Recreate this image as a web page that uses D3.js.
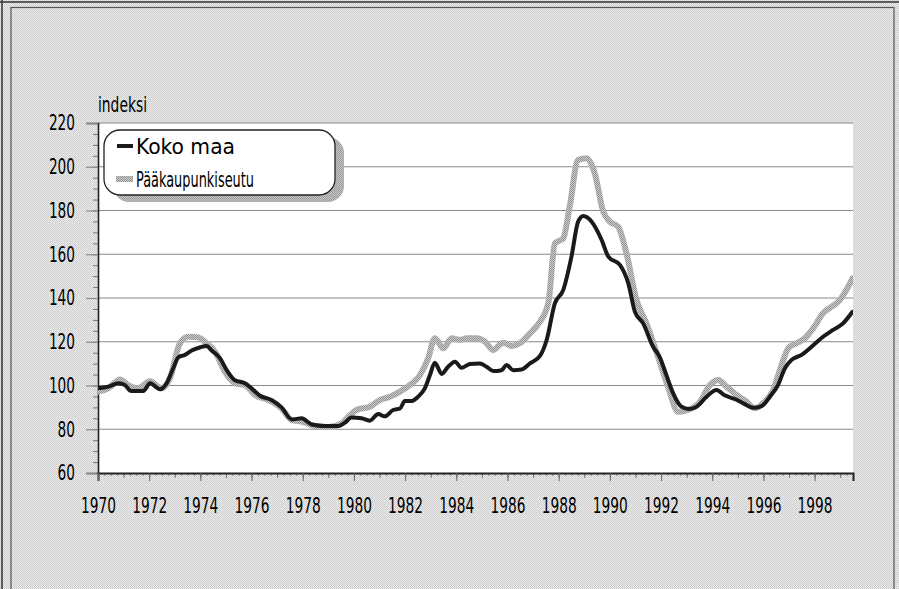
<!DOCTYPE html>
<html><head><meta charset="utf-8">
<script src="https://cdn.jsdelivr.net/npm/d3@7"></script>
<style>
body{margin:0;background:#fff;}
svg{display:block;}
text{font-family:"DejaVu Sans",sans-serif;font-stretch:condensed;fill:#000;}
</style>
</head><body>
<svg id="c" width="899" height="589"></svg>
<script>
// ---- data ----
const yearTicks = [1970,1972,1974,1976,1978,1980,1982,1984,1986,1988,1990,1992,1994,1996,1998];
const yTicks = [60,80,100,120,140,160,180,200,220];
const seriesNames = ["Koko maa","Pääkaupunkiseutu"];
const yLabel = "indeksi";

// Koko maa (whole country)
const kokoT = [1970.0,1970.4,1970.8,1971.05,1971.3,1971.77,1972.03,1972.42,1972.68,1972.94,1973.14,1973.4,1973.66,1974.0,1974.24,1974.44,1974.77,1975.03,1975.35,1975.74,1976.0,1976.33,1976.78,1977.17,1977.57,1977.96,1978.35,1978.87,1979.39,1979.65,1979.9,1980.3,1980.62,1980.95,1981.2,1981.53,1981.8,1981.99,1982.25,1982.51,1982.77,1982.97,1983.16,1983.43,1983.68,1983.95,1984.2,1984.53,1984.92,1985.18,1985.44,1985.77,1985.96,1986.22,1986.55,1986.88,1987.27,1987.53,1987.85,1988.18,1988.5,1988.76,1988.96,1989.29,1989.68,1989.94,1990.4,1990.72,1990.98,1991.3,1991.69,1991.95,1992.2,1992.47,1992.8,1993.1,1993.39,1993.78,1994.17,1994.49,1994.95,1995.27,1995.6,1995.93,1996.25,1996.57,1996.84,1997.1,1997.49,1997.88,1998.33,1998.72,1999.11,1999.48];
const kokoV = [98.7,99.5,101,100.2,97.5,97.5,101,98.3,101,107.9,112.9,114,116,117.5,118.1,116,112.4,107,102.4,101,98.7,95.3,93.4,90,84.5,85,82.2,81.5,81.5,83,85.4,85,83.9,87,85.9,88.8,89.5,92.9,92.9,94.9,98.7,104.8,110.4,105.3,108.6,110.9,108.1,109.8,110.1,108.6,106.6,107,109.4,107,107.3,110.1,113.5,120.8,137.5,143.7,158.9,174.9,177.5,174.9,166.5,158.9,155,146.7,133.7,128.4,117.7,113,105,96.5,90.3,89.3,90.3,94.9,98,95.5,93.5,91.5,89.8,90.6,94.9,100.2,107.9,111.7,114,117.7,122.3,125.4,128.4,133.7];

// Pääkaupunkiseutu (capital region)
const pksT = [1970.0,1970.4,1970.86,1971.18,1971.57,1972.03,1972.49,1972.81,1973.2,1973.53,1973.92,1974.24,1974.57,1974.96,1975.35,1975.74,1976.13,1976.65,1977.17,1977.57,1977.96,1978.48,1979.0,1979.52,1979.78,1980.1,1980.62,1981.02,1981.41,1981.8,1982.19,1982.58,1982.9,1983.16,1983.49,1983.82,1984.14,1984.4,1984.79,1985.12,1985.44,1985.83,1986.16,1986.48,1986.88,1987.27,1987.6,1987.85,1988.18,1988.44,1988.76,1989.09,1989.41,1989.74,1990.0,1990.32,1990.65,1991.04,1991.43,1991.88,1992.27,1992.67,1993.06,1993.52,1993.91,1994.23,1994.56,1994.95,1995.34,1995.66,1995.99,1996.38,1996.71,1996.97,1997.29,1997.62,1997.94,1998.33,1998.66,1998.98,1999.24,1999.48];
const pksV = [97.2,98.7,102.8,100.2,98.7,102,98.7,103.3,119.3,122.3,122,119.3,115.5,106.3,101,100.2,95.7,93.4,89.5,84.2,83.5,81.5,81,82.7,85.7,88.8,90.3,93.4,94.9,97.2,100.2,104.8,112.4,121.6,117,121.6,120.9,121.6,121.6,120.1,116.2,119.6,118.1,119.3,123.9,129.2,138,165,167.3,182.5,203.1,203.9,197,179.5,174.9,172.6,160.4,139,128.4,113.2,99.5,88,88.8,92.6,100.2,102.5,99.5,95.7,92.6,89.6,91.9,98,109.4,117,119.3,121.6,126.1,133,136,139,143.7,149];

// ---- drawing ----
const svg = d3.select("#c");
const defs = svg.append("defs");
function checker(id, a, b){
  const p = defs.append("pattern").attr("id", id).attr("width",2).attr("height",2).attr("patternUnits","userSpaceOnUse");
  p.append("rect").attr("width",2).attr("height",2).attr("fill",a);
  p.append("rect").attr("width",1).attr("height",1).attr("fill",b);
  p.append("rect").attr("x",1).attr("y",1).attr("width",1).attr("height",1).attr("fill",b);
}
checker("bg","#ececec","#cdcdcd");
checker("shadow","#c4c4c4","#9c9c9c");
checker("grayline","#cccccc","#929292");

// outer frame
svg.append("rect").attr("width",899).attr("height",589).attr("fill","url(#bg)");
svg.append("line").attr("x1",2).attr("x2",2).attr("y1",0).attr("y2",589).attr("stroke","#333").attr("stroke-width",1.5);
svg.append("line").attr("x1",0).attr("x2",899).attr("y1",2).attr("y2",2).attr("stroke","#333").attr("stroke-width",1.5);
svg.append("rect").attr("x",11).attr("y",7.5).attr("width",883).attr("height",600)
  .attr("fill","url(#bg)").attr("stroke","#555").attr("stroke-width",1.2);

const x = d3.scaleLinear().domain([1970, 1999.5]).range([98, 853]);
const y = d3.scaleLinear().domain([60, 220]).range([473, 123]);

// plot area
svg.append("rect").attr("x",x(1970)).attr("y",y(220)).attr("width",x(1999.5)-x(1970)).attr("height",y(60)-y(220)).attr("fill","#fff");

// gridlines
svg.append("g").selectAll("line").data(yTicks.filter(d=>d>60)).join("line")
  .attr("x1",x(1970)).attr("x2",x(1999.5)).attr("y1",d=>y(d)).attr("y2",d=>y(d))
  .attr("stroke","#8a8a8a").attr("stroke-width",1.2);

// y axis minor ticks
const yMinor = svg.append("g").attr("transform",`translate(${x(1970)},0)`)
  .call(d3.axisLeft(y).tickValues(d3.range(60,221,5)).tickSize(5).tickFormat(""));
yMinor.select(".domain").remove();
yMinor.selectAll("line").attr("stroke","#777");

const FONT = '"DejaVu Sans",sans-serif';
const FS = 21.5;
// y axis major
const yAx = svg.append("g").attr("transform",`translate(${x(1970)},0)`)
  .call(d3.axisLeft(y).tickValues(yTicks).tickSize(12).tickPadding(11).tickFormat(d3.format("d")));
yAx.select(".domain").attr("stroke","#222").attr("stroke-width",1.6);
yAx.selectAll(".tick line").attr("stroke","#8a8a8a").attr("stroke-width",1.2);
yAx.selectAll("text").attr("font-size",FS).attr("fill","#000")
  .attr("textLength",d=>String(d).length*8.7).attr("lengthAdjust","spacingAndGlyphs")
  .style("font-family",FONT);

// x axis: quarter ticks
const xq = svg.append("g").attr("transform",`translate(0,${y(60)})`)
  .call(d3.axisBottom(x).tickValues(d3.range(1970,1999.6,0.25)).tickSize(3).tickFormat(""));
xq.select(".domain").remove();
xq.selectAll("line").attr("stroke","#888");
const xy1 = svg.append("g").attr("transform",`translate(0,${y(60)})`)
  .call(d3.axisBottom(x).tickValues(d3.range(1970,1999.6,1)).tickSize(5).tickFormat(""));
xy1.select(".domain").remove();
xy1.selectAll("line").attr("stroke","#777");
const xAx = svg.append("g").attr("transform",`translate(0,${y(60)})`)
  .call(d3.axisBottom(x).tickValues(yearTicks).tickSize(8).tickFormat(d3.format("d")));
xAx.select(".domain").attr("stroke","#222").attr("stroke-width",2);
xAx.selectAll(".tick line").attr("stroke","#666");
xAx.selectAll("text").attr("font-size",FS).attr("y",40).attr("dy",0).attr("fill","#000")
  .attr("textLength",35).attr("lengthAdjust","spacingAndGlyphs")
  .style("font-family",FONT);

// axis title
svg.append("text").attr("x",98).attr("y",112).attr("font-size",FS)
  .attr("textLength",49).attr("lengthAdjust","spacingAndGlyphs").text(yLabel);

// lines
const clip = defs.append("clipPath").attr("id","pc");
clip.append("rect").attr("x",x(1970)).attr("y",y(220)).attr("width",x(1999.5)-x(1970)).attr("height",y(60)-y(220));
const line = d3.line().x(d=>x(d[0])).y(d=>y(d[1])).curve(d3.curveMonotoneX);
const pksData = pksT.map((t,i)=>[t,pksV[i]]);
const kokoData = kokoT.map((t,i)=>[t,kokoV[i]]);
const lg = svg.append("g").attr("clip-path","url(#pc)");
lg.append("path").attr("d",line(pksData)).attr("fill","none").attr("stroke","url(#grayline)")
  .attr("stroke-width",6).attr("stroke-linejoin","round").attr("stroke-linecap","round");
lg.append("path").attr("d",line(kokoData)).attr("fill","none").attr("stroke","#1a1a1a")
  .attr("stroke-width",4).attr("stroke-linejoin","round").attr("stroke-linecap","round");

// legend
const L = {x:104, y:130, w:231, h:65, r:16};
svg.append("rect").attr("x",L.x+9).attr("y",L.y+7).attr("width",L.w).attr("height",L.h).attr("rx",L.r)
  .attr("fill","url(#shadow)");
svg.append("rect").attr("x",L.x).attr("y",L.y).attr("width",L.w).attr("height",L.h).attr("rx",L.r)
  .attr("fill","#fff").attr("stroke","#222").attr("stroke-width",1.3);
svg.append("line").attr("x1",117).attr("x2",133).attr("y1",146).attr("y2",146).attr("stroke","#1a1a1a").attr("stroke-width",4);
svg.append("line").attr("x1",116).attr("x2",133).attr("y1",179).attr("y2",179).attr("stroke","url(#grayline)").attr("stroke-width",6);
svg.append("text").attr("x",136).attr("y",154).attr("font-size",FS)
  .attr("textLength",99).attr("lengthAdjust","spacingAndGlyphs").text(seriesNames[0]);
svg.append("text").attr("x",136).attr("y",187).attr("font-size",FS)
  .attr("textLength",118).attr("lengthAdjust","spacingAndGlyphs").text(seriesNames[1]);
</script>
</body></html>
